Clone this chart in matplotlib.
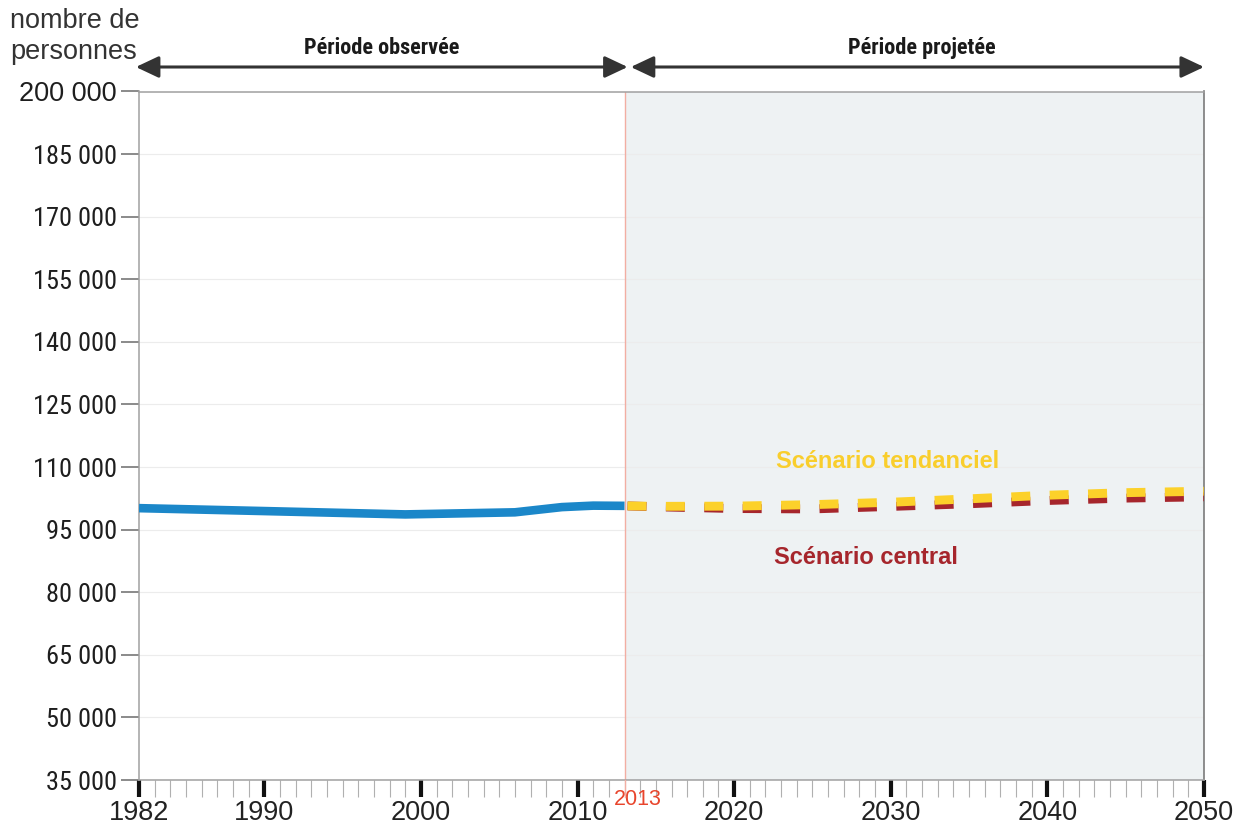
import matplotlib
matplotlib.use("Agg")
import matplotlib.pyplot as plt
from matplotlib import font_manager as fm
from matplotlib.ticker import FixedLocator, MultipleLocator

# ---- data ----
years_obs = [1982, 1990, 1999, 2006, 2009, 2011, 2013]
pop_obs = [100150, 99450, 98650, 99150, 100400, 100750, 100700]

years_proj = [2013, 2015, 2020, 2025, 2030, 2035, 2040, 2045, 2050]
tendanciel = [100700, 100580, 100630, 100990, 101560, 102380, 103250, 103860, 104200]
central = [100700, 100480, 100060, 99960, 100560, 101200, 101980, 102560, 102860]

y_ticks = [35000, 50000, 65000, 80000, 95000, 110000, 125000, 140000, 155000, 170000, 185000, 200000]
x_major = [1982, 1990, 2000, 2010, 2020, 2030, 2040, 2050]
split_year = 2013

# ---- colours ----
C_BLUE = "#1b87c9"
C_YEL = "#fcd12a"
C_RED = "#a6262c"
C_PROJ_BG = "#eef2f3"
C_SPLIT = "#f2aea3"

REG = ["Liberation Sans", "DejaVu Sans"]


def pick(cands):
    for c in cands:
        try:
            fm.findfont(fm.FontProperties(family=c), fallback_to_default=False)
            return c
        except Exception:
            continue
    return None


cond = pick(["Liberation Sans Narrow", "Roboto Condensed", "Open Sans Condensed",
             "DejaVu Sans Condensed", "Noto Sans Condensed"])
if cond:
    NARROW = [cond] + REG
    ysize, hsize = 19, 16
else:
    NARROW = REG
    ysize, hsize = 17.2, 14

plt.rcParams["font.family"] = REG

fig = plt.figure(figsize=(12.43, 8.27), dpi=100)
ax = fig.add_axes([139 / 1243, 1 - 780 / 827, (1204 - 139) / 1243, (780 - 91.5) / 827])

ax.set_xlim(1982, 2050)
ax.set_ylim(35000, 200000)

# projected background and split line
ax.axvspan(split_year, 2050, color=C_PROJ_BG, zorder=0, lw=0)
ax.axvline(split_year, color=C_SPLIT, lw=1.0, zorder=1)

# grid
for yv in y_ticks:
    ax.axhline(yv, color="#ececec", lw=0.8, zorder=0.5)

# lines
ax.plot(years_obs, pop_obs, color=C_BLUE, lw=6.2, solid_capstyle="butt",
        solid_joinstyle="round", zorder=3)
LW = 6.4
px = 0.72  # points per pixel at 100 dpi
on, off = 19 * px, 19.4 * px
dash = ((on + off - 3 * px) / LW, (on / LW, off / LW))
ax.plot(years_proj, central, color=C_RED, lw=LW, linestyle=dash,
        dash_capstyle="butt", zorder=3)
ax.plot(years_proj, tendanciel, color=C_YEL, lw=LW, linestyle=dash,
        dash_capstyle="butt", zorder=4)

# scenario labels
ax.text(2022.7, 111400, "Scénario tendanciel", color="#f9ce2c", fontsize=17,
        fontweight="bold", family=REG, ha="left", va="center")
ax.text(2022.55, 88400, "Scénario central", color=C_RED, fontsize=17,
        fontweight="bold", family=REG, ha="left", va="center")

# spines
for s in ["left", "bottom", "top"]:
    ax.spines[s].set_color("#a0a0a0")
    ax.spines[s].set_linewidth(1.1)
ax.spines["right"].set_color("#7a7a7a")
ax.spines["right"].set_linewidth(1.2)

# y axis
ax.yaxis.set_major_locator(FixedLocator(y_ticks))
ax.set_yticklabels([f"{v:,}".replace(",", " ") for v in y_ticks])
ax.tick_params(axis="y", direction="out", length=13, width=1.2, color="#777777",
               pad=3, labelsize=ysize, labelcolor="#1e1e1e")
ylabs = ax.get_yticklabels()
for lab in ylabs:
    lab.set_family(NARROW)
ylabs[-1].set_family(REG)
ylabs[-1].set_fontsize(19.5)

# x axis
ax.xaxis.set_major_locator(FixedLocator(x_major))
ax.set_xticklabels([str(v) for v in x_major])
ax.xaxis.set_minor_locator(MultipleLocator(1))
ax.tick_params(axis="x", which="major", direction="out", length=12.5, width=3,
               color="#111111", pad=2, labelsize=19.5, labelcolor="#222222")
ax.tick_params(axis="x", which="minor", direction="out", length=12.5, width=0.8,
               color="#b0b0b0")
ax.text(split_year - 0.7, -0.013, str(split_year), transform=ax.get_xaxis_transform(),
        ha="left", va="top", color="#e8452c", fontsize=15.5, family=REG)
ax.plot([split_year, split_year], [0, -0.025], transform=ax.get_xaxis_transform(),
        color=C_SPLIT, lw=1.0, clip_on=False, zorder=5)

# header arrows
arrow_y = (780 - 67) / (780 - 91.5)
astyle = "<|-|>,head_length=0.7,head_width=0.33"
for x0, x1 in [(1981.8, 2013.2), (2013.4, 2050)]:
    ax.annotate("", xy=(x0, arrow_y), xytext=(x1, arrow_y),
                xycoords=("data", "axes fraction"), textcoords=("data", "axes fraction"),
                arrowprops=dict(arrowstyle=astyle, color="#333333", lw=2.2,
                                mutation_scale=20, shrinkA=0, shrinkB=0),
                annotation_clip=False)

head_y = (780 - 48) / (780 - 91.5)
ax.text(1997.5, head_y, "Période observée", transform=ax.get_xaxis_transform(),
        ha="center", va="center", fontsize=hsize, fontweight="bold", family=NARROW,
        color="#1a1a1a")
ax.text(2032.0, head_y, "Période projetée", transform=ax.get_xaxis_transform(),
        ha="center", va="center", fontsize=hsize, fontweight="bold", family=NARROW,
        color="#1a1a1a")

fig.text(10 / 1243, 1 - 8 / 827, "nombre de\npersonnes", ha="left", va="top",
         fontsize=19.5, color="#333333", linespacing=1.25, family=REG)

fig.savefig("out.png", dpi=100, facecolor="white")
